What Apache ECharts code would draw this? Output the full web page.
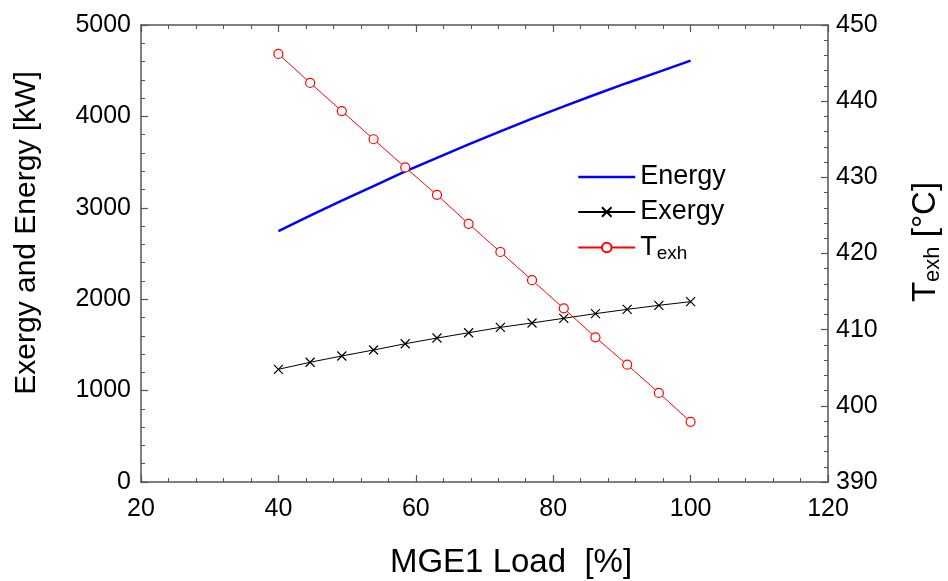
<!DOCTYPE html>
<html>
<head>
<meta charset="utf-8">
<script src="https://cdn.jsdelivr.net/npm/echarts@6/dist/echarts.min.js"></script>
<style>
html,body{margin:0;padding:0;background:#fff;}
#c{width:948px;height:581px;}
</style>
</head>
<body>
<div id="c"></div>
<script>
// Data
const loads  = [40, 44.62, 49.23, 53.85, 58.46, 63.08, 67.69, 72.31, 76.92, 81.54, 86.15, 90.77, 95.38, 100];
const energy = [2745, 2914, 3078, 3238, 3398, 3546, 3693, 3836, 3975, 4109, 4240, 4366, 4487, 4610];
const exergy = [1233, 1310, 1379, 1444, 1513, 1575, 1633, 1692, 1740, 1791, 1842, 1889, 1933, 1973];
const texh   = [446.2, 442.4, 438.7, 435.0, 431.3, 427.7, 423.9, 420.2, 416.5, 412.8, 409.0, 405.4, 401.7, 397.9];
const seriesNames = ['Energy', 'Exergy', 'Texh'];

const FONT = 'Liberation Sans, Arial, sans-serif';
const axisCol = '#555';

function pairs(xs, ys){ return xs.map((x,i)=>[x, ys[i]]); }

const baseAxis = {
  axisLine:{show:true, onZero:false, lineStyle:{color:axisCol, width:1.5}},
  axisTick:{show:true, inside:true, length:7, lineStyle:{color:axisCol, width:1.2}},
  minorTick:{show:true, splitNumber:5, length:4, lineStyle:{color:axisCol, width:1}},
  splitLine:{show:false},
  axisLabel:{color:'#000', fontFamily:FONT, fontSize:25, formatter:function(v){return String(v);}}
};

const chart = echarts.init(document.getElementById('c'), null, {renderer:'canvas'});
chart.setOption({
  animation:false,
  backgroundColor:'#fff',
  grid:{left:141, right:120, top:25, bottom:99, containLabel:false},
  xAxis:[
    Object.assign({}, baseAxis, {type:'value', min:20, max:120, interval:20, position:'bottom',
      axisLabel:Object.assign({}, baseAxis.axisLabel, {margin:15})}),
    Object.assign({}, baseAxis, {type:'value', min:20, max:120, interval:20, position:'top',
      axisLabel:{show:false}})
  ],
  yAxis:[
    Object.assign({}, baseAxis, {type:'value', min:0, max:5000, interval:1000, position:'left',
      axisLabel:Object.assign({}, baseAxis.axisLabel, {margin:10})}),
    Object.assign({}, baseAxis, {type:'value', min:390, max:450, interval:10, position:'right',
      axisLabel:Object.assign({}, baseAxis.axisLabel, {margin:8})})
  ],
  legend:{
    orient:'vertical', left:577, top:162, padding:0, itemGap:5, itemWidth:57, itemHeight:12,
    data:[
      {name:seriesNames[0], itemStyle:{opacity:0}, lineStyle:{color:'#0000ff', width:2.5}},
      {name:seriesNames[1]},
      {name:seriesNames[2]}
    ],
    textStyle:{fontFamily:FONT, fontSize:27, color:'#000', lineHeight:30,
      rich:{t:{fontFamily:FONT, fontSize:27, color:'#000', lineHeight:30},
            s:{fontFamily:FONT, fontSize:19, color:'#000', lineHeight:30, padding:[12,0,0,0]}}},
    formatter:function(n){ return n==='Texh' ? '{t|T}{s|exh}' : n; }
  },
  series:[
    {name:'Energy', type:'line', data:pairs(loads, energy), xAxisIndex:0, yAxisIndex:0,
      symbol:'none', lineStyle:{color:'#0000ff', width:2.5}, itemStyle:{color:'#0000ff'}},
    {name:'Exergy', type:'line', data:pairs(loads, exergy), xAxisIndex:0, yAxisIndex:0,
      symbol:'path://M0,0L10,10M10,0L0,10', symbolSize:9, showAllSymbol:true,
      lineStyle:{color:'#000', width:1}, itemStyle:{color:'rgba(0,0,0,0)', borderColor:'#000', borderWidth:1.2}},
    {name:'Texh', type:'line', data:pairs(loads, texh), xAxisIndex:0, yAxisIndex:1,
      symbol:'circle', symbolSize:9, showAllSymbol:true,
      lineStyle:{color:'#ff0000', width:1}, itemStyle:{color:'#fff', borderColor:'#ff0000', borderWidth:1.2}}
  ],
  graphic:[
    {type:'text', x:511, y:563, style:{text:'MGE1 Load  [%]', font:'33px '+FONT, fill:'#000', textAlign:'center', textVerticalAlign:'middle'}},
    {type:'text', x:27, y:233, rotation:Math.PI/2, style:{text:'Exergy and Energy [kW]', font:'30px '+FONT, fill:'#000', textAlign:'center', textVerticalAlign:'middle'}},
    {type:'text', x:926, y:242, rotation:Math.PI/2, style:{
      text:'{t|T}{s|exh}{t| [°C]}', textAlign:'center', textVerticalAlign:'middle',
      rich:{t:{fontFamily:FONT, fontSize:33, color:'#000', lineHeight:36},
            s:{fontFamily:FONT, fontSize:22, color:'#000', lineHeight:36, padding:[14,0,0,0]}}}}
  ]
});
</script>
</body>
</html>
